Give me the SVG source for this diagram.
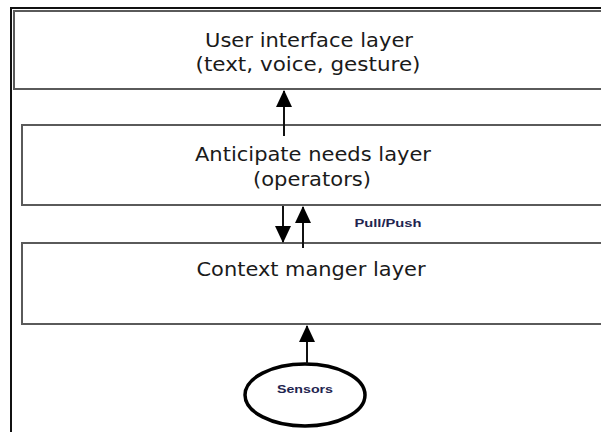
<svg xmlns="http://www.w3.org/2000/svg" width="601" height="432" viewBox="0 0 601 432">
<style>
.box{fill:#fff;stroke:#5a5a5a;stroke-width:2}
.lbl{font-family:"DejaVu Sans",Verdana,sans-serif;font-size:20px;fill:#1a1a1a;text-anchor:middle}
.sm{font-family:"Liberation Sans",Arial,sans-serif;font-size:11px;font-weight:bold;fill:#1f2550;text-anchor:middle}
.ln{stroke:#111;stroke-width:2;fill:none}
</style>
<defs>
<marker id="ah" viewBox="0 0 17 16" refX="16" refY="8" markerWidth="17" markerHeight="16" markerUnits="userSpaceOnUse" orient="auto">
<path d="M0 0 L17 8 L0 16 Z" fill="#000"/>
</marker>
</defs>
<rect width="601" height="432" fill="#fff"/>
<path d="M11 432 V8 H601" fill="none" stroke="#111" stroke-width="2"/>
<g id="ui">
<rect class="box" x="14" y="11" width="600" height="78"/>
<text class="lbl" x="309" y="47" textLength="208" lengthAdjust="spacingAndGlyphs">User interface layer</text>
<text class="lbl" x="308" y="71" textLength="225" lengthAdjust="spacingAndGlyphs">(text, voice, gesture)</text>
</g>
<g id="anticipate">
<rect class="box" x="22" y="125" width="600" height="80"/>
<text class="lbl" x="313" y="161" textLength="236" lengthAdjust="spacingAndGlyphs">Anticipate needs layer</text>
<text class="lbl" x="312" y="186" textLength="118" lengthAdjust="spacingAndGlyphs">(operators)</text>
</g>
<g id="context">
<rect class="box" x="22" y="243" width="600" height="81"/>
<text class="lbl" x="311" y="276" textLength="229" lengthAdjust="spacingAndGlyphs">Context manger layer</text>
</g>
<g id="sensors">
<ellipse cx="305" cy="395" rx="60" ry="31" fill="#fff" stroke="#000" stroke-width="3.5"/>
<text class="sm" x="305" y="393" textLength="56" lengthAdjust="spacingAndGlyphs">Sensors</text>
</g>
<g id="connectors">
<line class="ln" x1="284" y1="136" x2="284" y2="91" marker-end="url(#ah)"/>
<line class="ln" x1="283" y1="206" x2="283" y2="242" marker-end="url(#ah)"/>
<line class="ln" x1="303" y1="248" x2="303" y2="207" marker-end="url(#ah)"/>
<line class="ln" x1="307" y1="364" x2="307" y2="326" marker-end="url(#ah)"/>
<text class="sm" x="388" y="227" textLength="67" lengthAdjust="spacingAndGlyphs">Pull/Push</text>
</g>
</svg>
